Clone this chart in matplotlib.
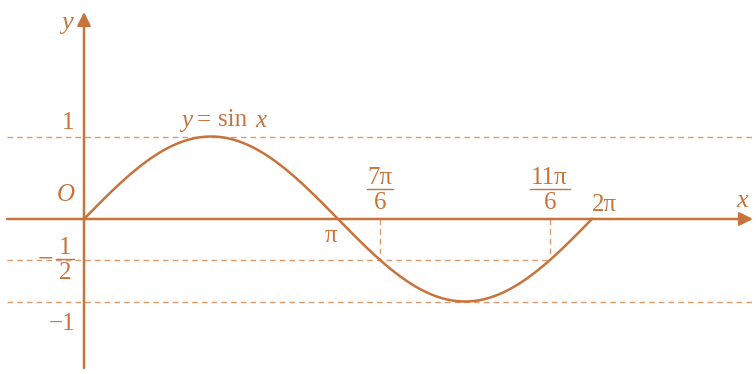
import numpy as np
import matplotlib
matplotlib.use('Agg')
import matplotlib.pyplot as plt

# key points of the chart (x in units of pi)
x_marks = [7 / 6, 11 / 6]               # 7pi/6, 11pi/6
x_mark_num = ['7\u03c0', '11\u03c0']
x_mark_den = ['6', '6']
y_levels = [1, -1]                      # full-width dashed guides
y_half = -0.5                           # guide that stops at 11pi/6
pi_ticks = [1, 2]
pi_labels = ['\u03c0', '2\u03c0']

plt.rcParams['font.family'] = ['Liberation Serif', 'DejaVu Serif']

col = '#c8733c'
col_light = '#d99a6c'

# pixel layout of the original picture
W, H = 756, 374
ox, oy = 84, 219        # origin in pixels
px_pi, px_unit = 254, 82.5

fig = plt.figure(figsize=(W / 100, H / 100), dpi=100)
ax = fig.add_axes([0, 0, 1, 1])
ax.set_xlim(-ox / px_pi * np.pi, (W - ox) / px_pi * np.pi)
ax.set_ylim(-(H - oy) / px_unit, oy / px_unit)
ax.axis('off')


def px2x(p):
    return (p - ox) / px_pi * np.pi


def px2y(p):
    return (oy - p) / px_unit


def txt(px, py, s, fs, **kw):
    ax.text(px2x(px), px2y(py), s, fontsize=fs, color=col, ha='center', va='center', **kw)


def frac(pxc, ybar, num, den, half_w, fs):
    # hand-drawn fraction: numerator, bar, denominator
    txt(pxc, ybar - 11, num, fs)
    txt(pxc, ybar + 14, den, fs)
    ax.plot([px2x(pxc - half_w), px2x(pxc + half_w)], [px2y(ybar), px2y(ybar)], color=col, lw=1.0)


dash = (0, (4, 3))
# dashed guides
for yv in y_levels:
    ax.plot([px2x(7), px2x(756)], [yv, yv], ls=dash, lw=1.0, color=col_light)
ax.plot([px2x(7), x_marks[1] * np.pi], [y_half, y_half], ls=dash, lw=1.0, color=col_light)
for xm in x_marks:
    ax.plot([xm * np.pi, xm * np.pi], [0, y_half], ls=dash, lw=1.0, color=col_light)

# axes with arrows
ax.annotate('', xy=(px2x(753), 0), xytext=(px2x(7), 0),
            arrowprops=dict(arrowstyle='-|>', mutation_scale=20, lw=1.8, color=col,
                            shrinkA=0, shrinkB=0))
ax.annotate('', xy=(0, px2y(12)), xytext=(0, px2y(368)),
            arrowprops=dict(arrowstyle='-|>', mutation_scale=20, lw=1.8, color=col,
                            shrinkA=0, shrinkB=0))

# the curve y = sin x
xs = np.linspace(0, 2 * np.pi, 400)
ax.plot(xs, np.sin(xs), color=col, lw=1.8)

fs = 18
txt(67, 23, 'y', fs + 1, style='italic')
txt(66, 195, 'O', fs, style='italic')
txt(742, 201, 'x', fs + 1, style='italic')

# y = sin x label
txt(187, 121, 'y', fs, style='italic')
txt(204, 120, '=', fs)
txt(233, 120, 'sin', fs)
txt(261, 121, 'x', fs, style='italic')

# y labels
txt(68, 123, '1', fs)
txt(45, 260, '\u2212', fs + 2)
frac(65, 259, '1', '2', 9, fs)
txt(62, 324, '\u22121', fs)

# x labels
txt(331, 236, pi_labels[0], fs)
txt(604, 205, pi_labels[1], fs)
for xm, num, den, hw in zip(x_marks, x_mark_num, x_mark_den, [13, 20]):
    frac(84 + xm * px_pi, 189, num, den, hw, fs)

fig.savefig('out.png', dpi=100, facecolor='white')
